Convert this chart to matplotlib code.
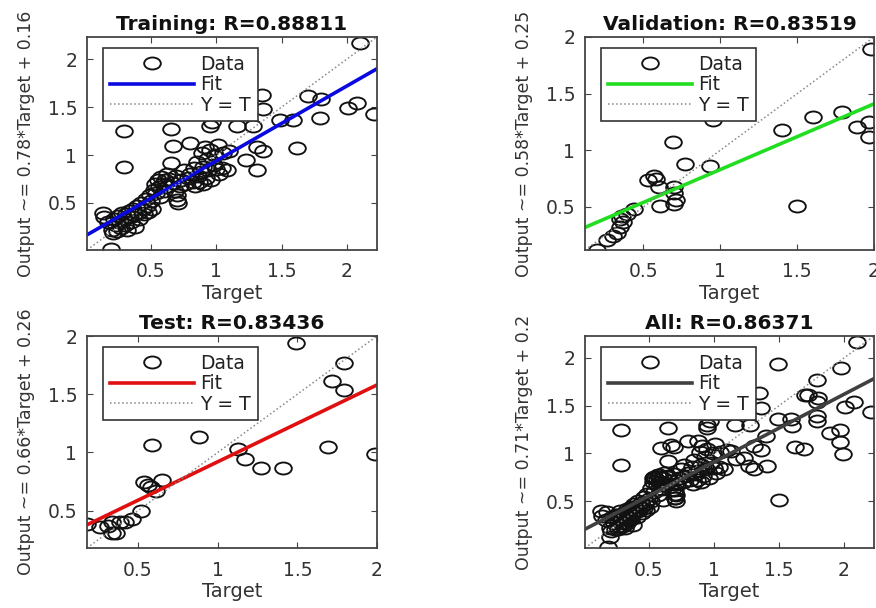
import matplotlib
matplotlib.use("Agg")
import matplotlib.pyplot as plt
import numpy as np
from matplotlib.path import Path

# ---------------- data ----------------
train_target = [0.13,0.14,0.17,0.19,0.20,0.21,0.22,0.23,0.24,0.25,0.26,0.27,0.28,0.29,0.30,0.31,0.32,0.33,0.34,0.35,
                0.36,0.37,0.38,0.39,0.40,0.41,0.42,0.44,0.45,0.46,0.47,0.48,0.49,0.50,0.51,
                0.52,0.53,0.54,0.55,0.56,0.57,0.58,0.59,0.60,0.61,0.62,0.63,0.64,0.65,0.65,0.66,0.67,0.68,0.69,0.70,
                0.70,0.71,0.72,0.73,0.75,0.76,0.78,
                0.80,0.80,0.82,0.83,0.84,0.85,0.86,0.87,0.88,0.89,0.90,0.90,0.91,0.92,0.93,0.94,0.95,0.95,0.96,0.97,
                0.98,0.99,1.00,1.01,1.02,1.04,1.05,1.08,
                1.10,1.16,1.23,1.28,1.31,1.31,1.36,1.35,1.36,1.49,1.59,1.62,1.70,1.79,1.80,2.01,2.08,2.10,2.21,
                0.29,0.29]
train_output = [0.40,0.35,0.30,0.02,0.22,0.19,0.33,0.27,0.21,0.36,0.30,0.24,0.40,0.33,0.27,0.38,0.22,0.42,0.35,0.30,
                0.44,0.38,0.25,0.47,0.40,0.33,0.50,0.44,0.38,0.54,0.47,0.41,0.58,0.52,0.44,
                0.64,0.70,0.60,0.74,0.67,0.56,0.77,0.70,0.63,0.74,0.80,0.68,0.75,0.92,1.27,0.71,1.09,0.62,0.78,0.58,
                0.53,0.50,0.68,0.74,0.84,0.70,0.76,
                1.13,0.80,0.72,0.86,0.68,0.93,0.78,0.72,0.82,1.02,0.70,0.88,1.08,0.76,0.96,0.84,1.30,1.05,0.74,1.34,
                0.90,1.00,0.85,1.10,0.80,0.86,1.02,0.84,
                1.04,1.30,0.95,1.30,1.08,0.84,1.04,1.63,1.48,1.36,1.36,1.07,1.61,1.39,1.58,1.49,1.54,2.17,1.43,
                1.25,0.88]

val_target = [0.20,0.26,0.30,0.33,0.35,0.35,0.36,0.37,0.39,0.44,0.53,0.57,0.58,0.60,0.61,0.69,0.70,0.70,0.71,0.70,
              0.77,0.93,0.95,1.40,1.50,1.60,1.79,1.89,1.97,1.97,1.98]
val_output = [0.12,0.21,0.24,0.27,0.32,0.39,0.42,0.37,0.44,0.48,0.74,0.77,0.75,0.68,0.51,1.07,0.68,0.62,0.56,0.53,
              0.88,0.86,1.27,1.18,0.51,1.29,1.34,1.21,1.25,1.12,1.89]

test_target = [0.18,0.26,0.31,0.34,0.34,0.36,0.39,0.42,0.46,0.52,0.54,0.56,0.58,0.59,0.61,0.65,0.88,1.13,1.17,1.27,
               1.41,1.49,1.69,1.72,1.79,1.79,1.99]
test_output = [0.39,0.36,0.37,0.40,0.31,0.31,0.40,0.40,0.43,0.50,0.75,0.72,0.70,1.06,0.67,0.76,1.13,1.03,0.94,0.87,
               0.87,1.94,1.05,1.61,1.77,1.54,0.99]

all_target = train_target + val_target + test_target
all_output = train_output + val_output + test_output

titles = ["Training: R=0.88811", "Validation: R=0.83519", "Test: R=0.83436", "All: R=0.86371"]
slopes = [0.78, 0.58, 0.66, 0.71]
intercepts = [0.16, 0.25, 0.26, 0.2]
ylabels = ["Output ~= 0.78*Target + 0.16", "Output ~= 0.58*Target + 0.25",
           "Output ~= 0.66*Target + 0.26", "Output ~= 0.71*Target + 0.2"]
limits = [(0.01, 2.23), (0.12, 2.0), (0.18, 2.0), (0.01, 2.23)]
tick_vals = [0.5, 1, 1.5, 2]
tick_labels = ["0.5", "1", "1.5", "2"]
fit_colors = ["#0a0ae0", "#22dd22", "#e01010", "#404040"]

series = [(train_target, train_output), (val_target, val_output),
          (test_target, test_output), (all_target, all_output)]

# ---------------- layout ----------------
W, H = 876, 608
fig = plt.figure(figsize=(W / 100, H / 100), dpi=100)
plt.rcParams['font.family'] = ['DejaVu Sans']

boxes = [(87, 37, 377, 250), (585, 37, 874, 250), (87, 336, 377, 548), (585, 336, 874, 548)]

circ = Path.unit_circle()
ell = Path(circ.vertices * np.array([1.0, 0.72]), circ.codes)

for i in range(4):
    x0, y0, x1, y1 = boxes[i]
    w = x1 - x0
    h = y1 - y0
    ax = fig.add_axes([x0 / W, 1 - y1 / H, w / W, h / H])
    t, o = series[i]
    lo, hi = limits[i]
    ax.plot(t, o, linestyle='none', marker=ell, markersize=12, markerfacecolor='none',
            markeredgecolor='#111111', markeredgewidth=1.35, label='Data')
    xs = np.array([lo, hi])
    ax.plot(xs, slopes[i] * xs + intercepts[i], color=fit_colors[i], lw=2.6, label='Fit')
    ax.plot(xs, xs, linestyle=':', color='#888888', lw=1.1, label='Y = T')
    ax.set_xlim(lo, hi)
    ax.set_ylim(lo, hi)
    ax.set_xticks(tick_vals)
    ax.set_xticklabels(tick_labels)
    ax.set_yticks(tick_vals)
    ax.set_yticklabels(tick_labels)
    ax.tick_params(direction='in', top=True, right=True, length=4, width=0.8,
                   colors='#444444', labelsize=13.5)
    ax.tick_params(axis='x', labelcolor='#333333', pad=9)
    ax.tick_params(axis='y', labelcolor='#333333', pad=7)
    for sp in ax.spines.values():
        sp.set_color('#444444')
        sp.set_linewidth(1.3)
    ax.set_title(titles[i], fontsize=14.5, fontweight='bold', color='#111111', pad=5)
    ax.set_xlabel('Target', fontsize=14, color='#333333')
    ax.set_ylabel(ylabels[i], fontsize=12.5, color='#333333')
    ax.xaxis.set_label_coords(0.5, -34 / h)
    ax.yaxis.set_label_coords(-52 / w, 0.5)
    leg = ax.legend(loc='upper left', bbox_to_anchor=(16 / w, 1 - 11 / h), borderaxespad=0,
                    fontsize=13.5, handlelength=4.5, handletextpad=0.35, labelspacing=0.08,
                    borderpad=0.35, fancybox=False, framealpha=1, edgecolor='#333333')
    leg.get_frame().set_linewidth(1.2)
    for txt in leg.get_texts():
        txt.set_color('#222222')

fig.savefig('out.png', dpi=100)
